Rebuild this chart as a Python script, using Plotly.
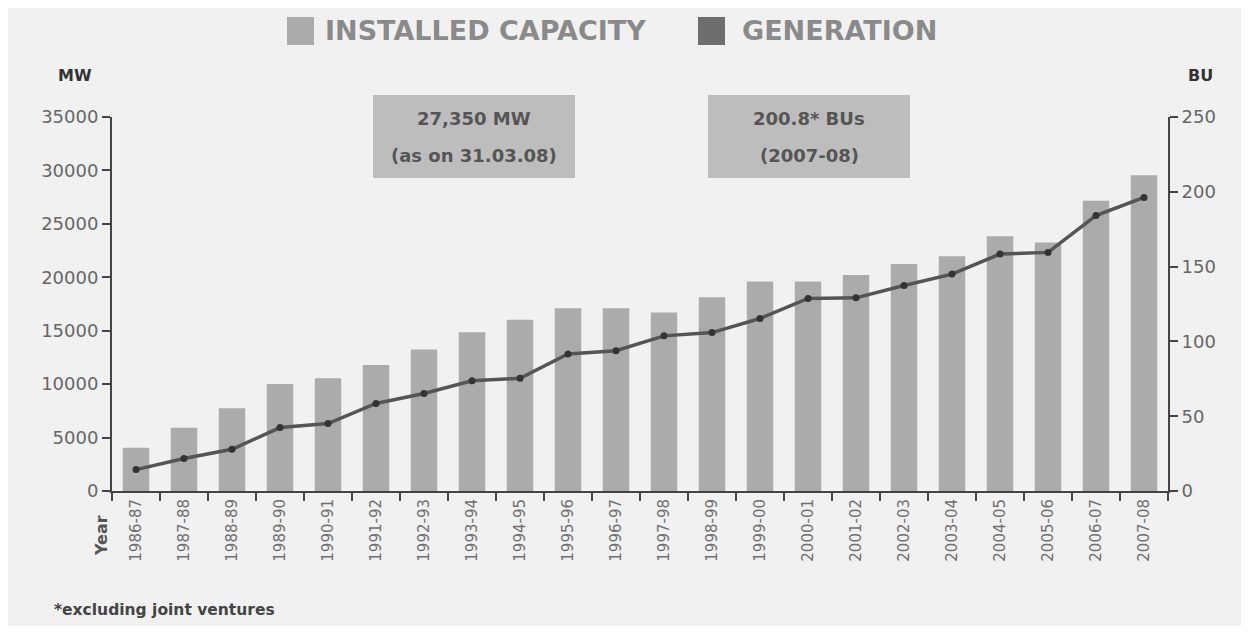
import plotly.graph_objects as go

# data
years = ['1986-87', '1987-88', '1988-89', '1989-90', '1990-91', '1991-92', '1992-93',
         '1993-94', '1994-95', '1995-96', '1996-97', '1997-98', '1998-99', '1999-00',
         '2000-01', '2001-02', '2002-03', '2003-04', '2004-05', '2005-06', '2006-07',
         '2007-08']
capacity_mw = [4050, 5930, 7750, 10020, 10560, 11800, 13250, 14850, 16020, 17100, 17100,
               16700, 18130, 19610, 19610, 20220, 21250, 21980, 23830, 23250, 27170, 29560]
generation_bu = [14.3, 21.7, 27.9, 42.4, 45.1, 58.5, 65.2, 73.7, 75.3, 91.6, 93.8,
                 103.7, 105.9, 115.3, 128.7, 129.1, 137.4, 145.0, 158.4, 159.5, 184.1, 196.2]

bg = '#f1f1f1'
bar_col = '#ababab'
line_col = '#555555'
txt = '#666666'
font = 'DejaVu Sans'

# plot area in page pixels (page has an 8px body margin)
PX0, PX1, PY0, PY1 = 112, 1168, 117, 491


def px(x):
    return (x - PX0) / (PX1 - PX0)


def py(y):
    return (PY1 - y) / (PY1 - PY0)


fig = go.Figure()

fig.add_trace(go.Bar(
    x=years, y=capacity_mw, name='INSTALLED CAPACITY',
    marker=dict(color=bar_col, line=dict(width=0)),
    showlegend=False
))

fig.add_trace(go.Scatter(
    x=years, y=generation_bu, name='GENERATION', yaxis='y2',
    mode='lines+markers',
    line=dict(color=line_col, width=3.5),
    marker=dict(color='#333333', size=7),
    showlegend=False
))

axis_common = dict(
    showgrid=False, zeroline=False, showline=True, linecolor='#444444', linewidth=2,
    ticks='outside', ticklen=8, tickwidth=2, tickcolor='#444444',
    tickfont=dict(family=font, size=18, color=txt), tickformat='d',
)

W, H = 1233, 618
fig.update_layout(
    width=W, height=H,
    margin=dict(l=PX0 - 8, r=8 + W - PX1, t=PY0 - 8, b=8 + H - PY1),
    paper_bgcolor=bg, plot_bgcolor=bg,
    bargap=0.45,
    font=dict(family=font, color=txt),
    xaxis=dict(
        type='category', tickson='boundaries', tickangle=-90, range=[-0.5, 21.5],
        showgrid=False, zeroline=False, showline=True, linecolor='#444444', linewidth=2,
        ticks='outside', ticklen=8, tickwidth=2, tickcolor='#444444',
        tickfont=dict(family=font, size=15, color='#707070'),
    ),
    yaxis=dict(range=[0, 35000], dtick=5000, **axis_common),
    yaxis2=dict(range=[0, 250], dtick=50, overlaying='y', side='right', **axis_common),
)

# custom legend at the top
legend_items = [(287, 323, 'INSTALLED CAPACITY', bar_col), (698, 740, 'GENERATION', '#6e6e6e')]
for x0, tx, label, col in legend_items:
    fig.add_shape(type='rect', xref='paper', yref='paper',
                  x0=px(x0), x1=px(x0 + 27), y0=py(45), y1=py(17),
                  fillcolor=col, line=dict(width=0))
    fig.add_annotation(text='<b>' + label + '</b>', xref='paper', yref='paper',
                       x=px(tx), y=py(31),
                       xanchor='left', yanchor='middle', showarrow=False,
                       font=dict(family=font, size=27, color='#8a8a8a'))

# info boxes
boxes = [(373, 575, '27,350 MW', '(as on 31.03.08)'), (708, 910, '200.8* BUs', '(2007-08)')]
for bx0, bx1, line1, line2 in boxes:
    fig.add_shape(type='rect', xref='paper', yref='paper',
                  x0=px(bx0), x1=px(bx1), y0=py(178), y1=py(95),
                  fillcolor='#bdbdbd', line=dict(width=0), layer='below')
    for ty, label in [(118, line1), (155, line2)]:
        fig.add_annotation(text='<b>' + label + '</b>', xref='paper', yref='paper',
                           x=px((bx0 + bx1) / 2), y=py(ty),
                           xanchor='center', yanchor='middle', showarrow=False,
                           font=dict(family=font, size=18, color='#555555'))

# axis titles and footnote
fig.add_annotation(text='<b>MW</b>', xref='paper', yref='paper',
                   x=px(75), y=py(75), xanchor='center', yanchor='middle', showarrow=False,
                   font=dict(family=font, size=16, color='#333333'))
fig.add_annotation(text='<b>BU</b>', xref='paper', yref='paper',
                   x=px(1200), y=py(75), xanchor='center', yanchor='middle', showarrow=False,
                   font=dict(family=font, size=16, color='#333333'))
fig.add_annotation(text='<b>Year</b>', xref='paper', yref='paper',
                   x=px(101), y=py(536), xanchor='center', yanchor='middle', showarrow=False,
                   textangle=-90, font=dict(family=font, size=16, color='#555555'))
fig.add_annotation(text='<b>*excluding joint ventures</b>', xref='paper', yref='paper',
                   x=px(52), y=py(610), xanchor='left', yanchor='middle', showarrow=False,
                   font=dict(family=font, size=15.5, color='#444444'))

fig.write_html('out.html')
